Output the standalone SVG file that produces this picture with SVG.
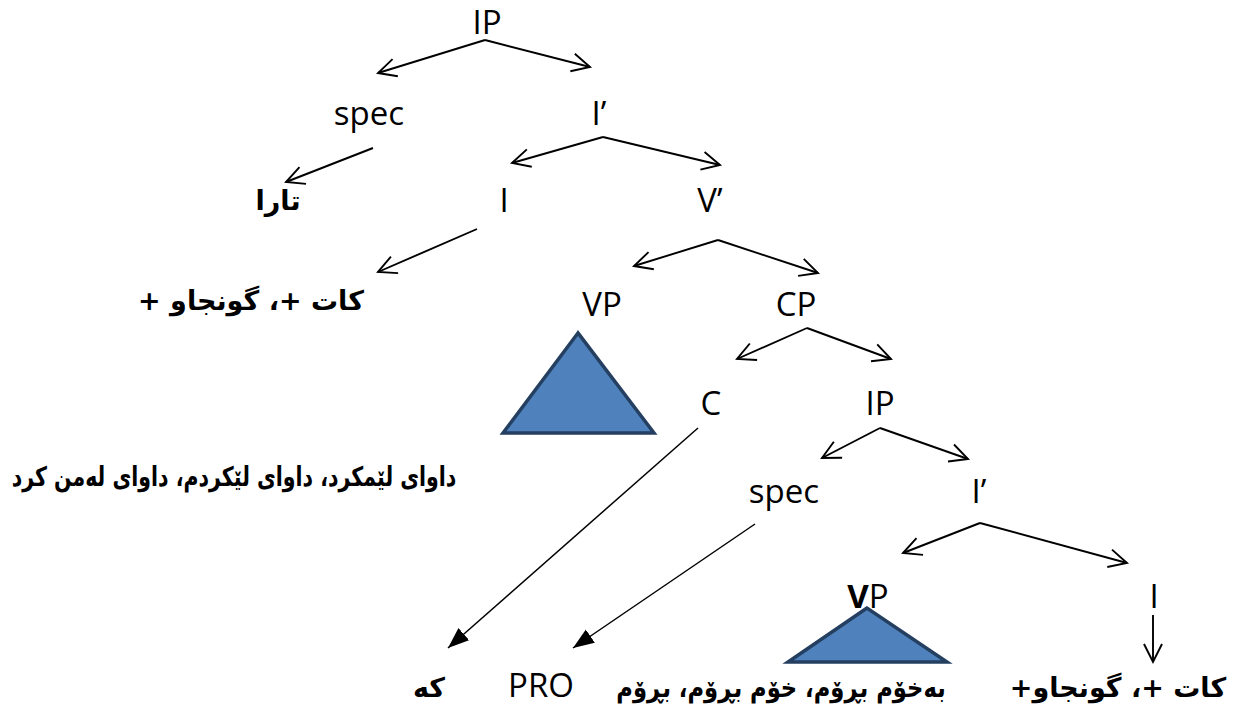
<svg xmlns="http://www.w3.org/2000/svg" width="1234" height="709" viewBox="0 0 1234 709">
  <defs>
    <marker id="open" markerUnits="userSpaceOnUse" markerWidth="24" markerHeight="24" viewBox="0 0 24 24" refX="21" refY="12" orient="auto">
      <path d="M3,3 L21,12 L3,21" fill="none" stroke="#000" stroke-width="1.9" stroke-linejoin="miter"/>
    </marker>
    <marker id="solid" markerUnits="userSpaceOnUse" markerWidth="22" markerHeight="18" viewBox="0 0 22 18" refX="21" refY="9" orient="auto">
      <path d="M0,1 L21,9 L0,17 Z" fill="#000"/>
    </marker>
    <style>
      .lbl { font-family: "Open Sans", "Noto Sans", sans-serif; font-size: 33px; fill: #000; text-anchor: middle; }
      .ar { font-family: "DejaVu Sans", "Noto Sans", sans-serif; font-size: 27px; font-weight: bold; fill: #000; text-anchor: middle; direction: rtl; }
      .edge { fill: none; stroke: #000; stroke-width: 1.9; marker-end: url(#open); }
      .edge2 { fill: none; stroke: #000; stroke-width: 1.5; marker-end: url(#solid); }
      .tri { fill: #4F81BD; stroke: #243F60; stroke-width: 3.5; stroke-linejoin: miter; }
    </style>
  </defs>
  <rect width="1234" height="709" fill="#fff"/>

  <g id="connectors">
    <path class="edge" d="M485,40 L378,73"/>
    <path class="edge" d="M485,40 L590,67"/>
    <path class="edge" d="M373,148 L286,182"/>
    <path class="edge" d="M603,137 L512,163"/>
    <path class="edge" d="M603,137 L720,165"/>
    <path class="edge" d="M477,229 L378,272"/>
    <path class="edge" d="M718,240 L634,266"/>
    <path class="edge" d="M718,240 L818,273"/>
    <path class="edge" d="M807,328 L737,359"/>
    <path class="edge" d="M807,328 L891,359"/>
    <path class="edge" d="M880,428 L822,458"/>
    <path class="edge" d="M880,428 L968,459"/>
    <path class="edge" d="M980,523 L903,553"/>
    <path class="edge" d="M980,523 L1127,563"/>
    <path class="edge" d="M1153,615 L1153,662"/>
    <path class="edge2" d="M698,428 L448,648"/>
    <path class="edge2" d="M755,524 L573,648"/>
  </g>

  <g id="n-ip1"><text class="lbl" x="487" y="34">IP</text></g>
  <g id="n-spec1"><text class="lbl" x="369" y="125">spec</text></g>
  <g id="n-ibar1"><text class="lbl" x="599" y="125">I’</text></g>
  <g id="n-tara"><text class="ar" x="278" y="210" font-size="29">تارا</text></g>
  <g id="n-i1"><text class="lbl" x="504" y="212">I</text></g>
  <g id="n-vbar"><text class="lbl" x="710" y="212">V’</text></g>
  <g id="n-kat1"><text class="ar" x="251" y="310">کات +، گونجاو +</text></g>
  <g id="n-vp1"><text class="lbl" x="602" y="316">VP</text></g>
  <g id="n-cp"><text class="lbl" x="796" y="316">CP</text></g>
  <g id="n-tri1"><polygon class="tri" points="578,333 503,433 654,433"/></g>
  <g id="n-c"><text class="lbl" x="711" y="415">C</text></g>
  <g id="n-ip2"><text class="lbl" x="880" y="415">IP</text></g>
  <g id="n-dawa"><text class="ar" transform="translate(234,486) scale(0.76,1)" x="0" y="0">داوای لێمکرد، داوای لێکردم، داوای لەمن کرد</text></g>
  <g id="n-spec2"><text class="lbl" x="784" y="503">spec</text></g>
  <g id="n-ibar2"><text class="lbl" x="979" y="503">I’</text></g>
  <g id="n-vp2"><text class="lbl" x="868" y="608"><tspan font-weight="bold">V</tspan>P</text></g>
  <g id="n-i2"><text class="lbl" x="1154" y="608">I</text></g>
  <g id="n-tri2"><polygon class="tri" points="867,608 788,662 947,662"/></g>
  <g id="n-ke"><text class="ar" x="429" y="697">که</text></g>
  <g id="n-pro"><text class="lbl" x="541" y="697">PRO</text></g>
  <g id="n-bexom"><text class="ar" transform="translate(781,697) scale(0.84,1)" x="0" y="0">بەخۆم بڕۆم، خۆم بڕۆم، بڕۆم</text></g>
  <g id="n-kat2"><text class="ar" x="1118" y="697">کات +، گونجاو+</text></g>
</svg>
